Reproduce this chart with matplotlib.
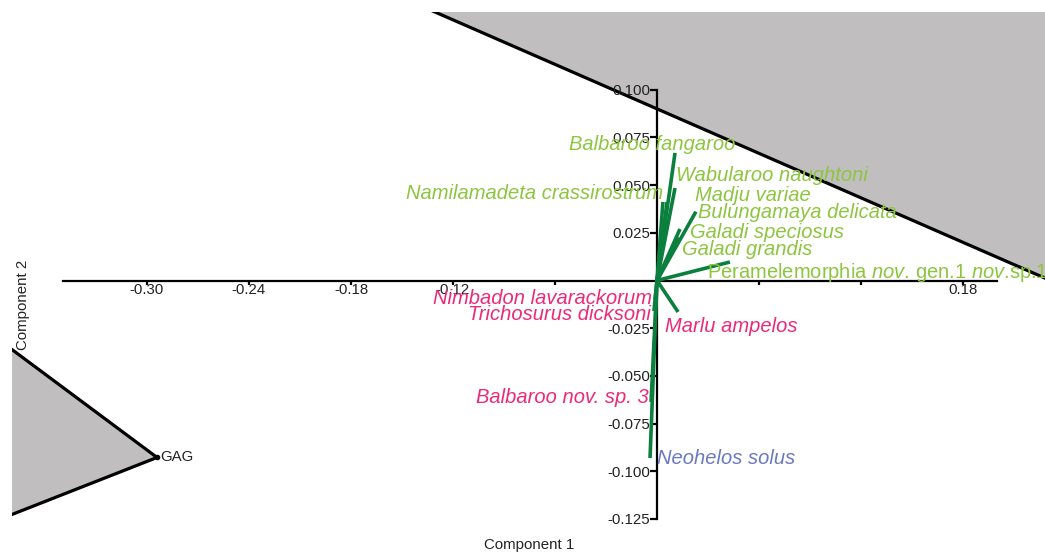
import numpy as np
import matplotlib
matplotlib.use("Agg")
from matplotlib import pyplot as plt
from matplotlib.patches import Polygon
from matplotlib.ticker import FixedLocator, FixedFormatter

plt.rcParams['font.family'] = ['Liberation Sans', 'DejaVu Sans']
plt.rcParams['mathtext.fontset'] = 'custom'
plt.rcParams['mathtext.rm'] = 'Liberation Sans'
plt.rcParams['mathtext.it'] = 'Liberation Sans:italic'

# ---- data ----
species = ["Balbaroo fangaroo", "Wabularoo naughtoni", "Madju variae",
           "Namilamadeta crassirostrum", "Bulungamaya delicata",
           "Galadi speciosus", "Galadi grandis",
           r"Peramelemorphia $\mathit{nov}$. gen.1 $\mathit{nov}$.sp.1",
           "Nimbadon lavarackorum", "Trichosurus dicksoni", "Marlu ampelos",
           "Balbaroo nov. sp. 3", "Neohelos solus"]
load_x = [0.0106, 0.0106, 0.0059, 0.0035, 0.0229, 0.0135, 0.0124, 0.0429,
          -0.0012, -0.0018, 0.0124, -0.0035, -0.0041]
load_y = [0.0669, 0.0485, 0.0412, 0.0412, 0.0361, 0.0270, 0.0228, 0.0097,
          -0.0102, -0.0160, -0.0165, -0.0637, -0.0931]
group = ["green"] * 8 + ["pink"] * 4 + ["blue"]
italic = [True] * 7 + [False] + [True] * 5

# label anchors (data units) and alignment
lab_x = [-0.0026, 0.0112, 0.0224, 0.0035, 0.0241, 0.0194, 0.0147, 0.0294,
         -0.0029, -0.0035, 0.0047, -0.0047, 0.0002]
lab_y = [0.0711, 0.0553, 0.0448, 0.0454, 0.0354, 0.0254, 0.0160, 0.0040,
         -0.0097, -0.0176, -0.0239, -0.0611, -0.0936]
lab_ha = ["center", "left", "left", "right", "left", "left", "left", "left",
          "right", "right", "left", "right", "left"]

# convex hulls (only parts inside the window are visible)
hull_top_x = [-0.18, 0.26, 0.26]
hull_top_y = [0.1600, -0.0111, 0.1600]
hull_gag_x = [-0.42, -0.2941, -0.42]
hull_gag_y = [-0.0093, -0.0928, -0.1369]

xticks = [-0.30, -0.24, -0.18, -0.12, -0.06, 0.06, 0.12, 0.18]
xticklabels = ["-0.30", "-0.24", "-0.18", "-0.12", "", "", "", "0.18"]
yticks = [-0.125, -0.100, -0.075, -0.050, -0.025, 0.025, 0.050, 0.075, 0.100]

colors = {"green": "#8cc63f", "pink": "#ec2a7a", "blue": "#6b79c2"}
vec_col = "#0b7f3e"
gray = "#c0bebf"


def main():
    fig = plt.figure(figsize=(10.45, 5.52), dpi=100)
    W, H = 1045.0, 552.0
    ax = fig.add_axes([12 / W, 0, 1033 / W, 540 / H])
    # pixel -> data mapping measured on the reference
    ox, oy, sx, sy = 657.0, 280.5, 1700.0, 1907.0
    ax.set_xlim((12 - ox) / sx, (1045 - ox) / sx)
    ax.set_ylim((oy - 552) / sy, (oy - 12) / sy)

    # hulls
    for hx, hy in [(hull_top_x, hull_top_y), (hull_gag_x, hull_gag_y)]:
        ax.add_patch(Polygon(np.column_stack([hx, hy]), closed=True,
                             facecolor=gray, edgecolor="none", zorder=0.5))
    ax.plot(hull_top_x[:2], hull_top_y[:2], color="black", lw=2.3, zorder=1,
            solid_capstyle="butt")
    ax.plot(hull_gag_x, hull_gag_y, color="black", lw=2.3, zorder=1)
    ax.plot(hull_gag_x[1], hull_gag_y[1], "o", color="black", ms=3, zorder=1)
    ax.text(hull_gag_x[1] + 0.0017, hull_gag_y[1], "GAG", fontsize=10.8,
            color="#222222", ha="left", va="center", zorder=4)

    # axes through origin
    for s in ["top", "right"]:
        ax.spines[s].set_visible(False)
    ax.spines["left"].set_position(("data", 0))
    ax.spines["bottom"].set_position(("data", 0))
    ax.spines["left"].set_bounds(-0.125, 0.100)
    ax.spines["bottom"].set_bounds(-0.3494, 0.2)
    for s in ["left", "bottom"]:
        ax.spines[s].set_linewidth(1.6)
        ax.spines[s].set_zorder(2)
    ax.xaxis.set_major_locator(FixedLocator(xticks))
    ax.xaxis.set_major_formatter(FixedFormatter(xticklabels))
    ax.yaxis.set_major_locator(FixedLocator(yticks))
    ax.set_yticklabels(["%.3f" % v for v in yticks])
    ax.tick_params(axis="x", direction="out", length=3, width=1.6, pad=-1.2,
                   labelsize=10.8, labelcolor="#222222")
    ax.tick_params(axis="y", direction="out", length=5, width=1.6, pad=0,
                   labelsize=10.8, labelcolor="#222222")
    ax.patch.set_alpha(0)

    # loading vectors
    for i in range(len(species)):
        ax.plot([0, load_x[i]], [0, load_y[i]], color=vec_col, lw=2.6,
                solid_capstyle="butt", zorder=3)
        ax.text(lab_x[i], lab_y[i], species[i], fontsize=14.5,
                style="italic" if italic[i] else "normal",
                color=colors[group[i]], ha=lab_ha[i], va="center", zorder=4)

    fig.text(529 / W, 1 - 545 / H, "Component 1", fontsize=10.8,
             color="#222222", ha="center", va="center")
    fig.text(23 / W, 1 - 305 / H, "Component 2", fontsize=10.8,
             color="#222222", ha="center", va="center", rotation=90)

    fig.savefig("out.png", dpi=100)


if __name__ == "__main__":
    main()
